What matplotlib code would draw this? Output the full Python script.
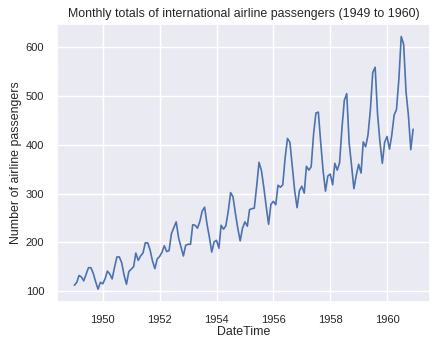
import numpy as np
import pandas as pd
import matplotlib
matplotlib.use("Agg")
import matplotlib.pyplot as plt
import matplotlib.dates as mdates
import seaborn as sns

passengers = [
    112, 118, 132, 129, 121, 135, 148, 148, 136, 119, 104, 118,
    115, 126, 141, 135, 125, 149, 170, 170, 158, 133, 114, 140,
    145, 150, 178, 163, 172, 178, 199, 199, 184, 162, 146, 166,
    171, 180, 193, 181, 183, 218, 230, 242, 209, 191, 172, 194,
    196, 196, 236, 235, 229, 243, 264, 272, 237, 211, 180, 201,
    204, 188, 235, 227, 234, 264, 302, 293, 259, 229, 203, 229,
    242, 233, 267, 269, 270, 315, 364, 347, 312, 274, 237, 278,
    284, 277, 317, 313, 318, 374, 413, 405, 355, 306, 271, 306,
    315, 301, 356, 348, 355, 422, 465, 467, 404, 347, 305, 336,
    340, 318, 362, 348, 363, 435, 491, 505, 404, 359, 310, 337,
    360, 342, 406, 396, 420, 472, 548, 559, 463, 407, 362, 405,
    417, 391, 419, 461, 472, 535, 622, 606, 508, 461, 390, 432,
]
dates = pd.date_range("1949-01-01", periods=len(passengers), freq="MS")

sns.set_theme(style="darkgrid")
plt.rcParams['font.family'] = ['Liberation Sans', 'DejaVu Sans']

fig, ax = plt.subplots(figsize=(4.42, 3.41), dpi=100)
ax.plot(dates, passengers, color="#4c72b0", linewidth=1.2)
ax.xaxis.set_major_locator(mdates.YearLocator(2))
ax.xaxis.set_major_formatter(mdates.DateFormatter("%Y"))
ax.set_yticks([100, 200, 300, 400, 500, 600])
ax.tick_params(labelsize=8)
ax.set_title("Monthly totals of international airline passengers (1949 to 1960)", fontsize=8.9, pad=5)
ax.set_xlabel("DateTime", fontsize=8.9, labelpad=1)
ax.set_ylabel("Number of airline passengers", fontsize=8.9, labelpad=3)
fig.subplots_adjust(left=0.13, right=0.973, top=0.93, bottom=0.115)
fig.savefig("out.png", dpi=100)
